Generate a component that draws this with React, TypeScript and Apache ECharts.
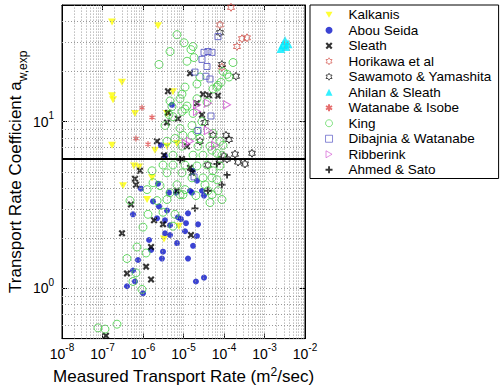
import React, { useEffect, useRef } from "react";
import * as echarts from "echarts";

const FONT = '"Liberation Sans", Arial, Helvetica, sans-serif';

// ---- data: [measured transport rate (m^2/s), transport rate coefficient] ----
const kalkanis = [
  [1.72e-7, 39.6], [2.35e-6, 37.5], [3.03e-7, 17.2], [1.72e-7, 14.3], [1.82e-7, 13.5],
  [6.34e-7, 11.2], [5.5e-6, 15.1], [3.91e-6, 11.2], [1.72e-7, 7.21], [5.99e-7, 5.42],
  [7.96e-7, 5.35], [1.67e-6, 4.6], [3.21e-7, 4.13], [1.26e-6, 3.41], [3.91e-6, 7.12],
  [6.9e-6, 7.4], [1.98e-6, 6.74], [7.73e-6, 2.36], [3.3e-6, 1.98],
];
const abouSeida = [
  [5.2e-6, 12.6], [2.78e-6, 7.21], [3.49e-6, 6.21], [8.91e-7, 3.96], [2.35e-6, 4.24],
  [4.38e-6, 3.75], [6.52e-6, 3.75], [1.45e-5, 3.85], [1.72e-5, 5.07], [2.15e-5, 4.42],
  [2.86e-5, 3.85], [3.21e-5, 3.6], [1.77e-6, 3.32], [5.66e-7, 2.78], [2.48e-6, 3.1],
  [3.91e-6, 2.93], [3.49e-6, 2.56], [2.22e-6, 2.63], [7.31e-6, 2.67], [8.66e-6, 2.6],
  [1.15e-5, 2.46], [2.28e-5, 2.42], [1.29e-5, 2.82], [4.64e-6, 2.39], [1.41e-6, 1.95],
  [1.58e-6, 1.7], [3.49e-6, 2.14], [4.64e-6, 2.09], [1.09e-5, 2.2], [6.9e-6, 1.87],
  [1.72e-5, 1.8], [2.15e-5, 2.06], [3.12e-6, 1.66], [2.94e-6, 1.51], [1.29e-5, 1.51],
  [7.52e-7, 1.48], [5.66e-7, 1.28], [6.34e-7, 1.1], [4.02e-7, 1.03], [1.0e-6, 0.934],
  [2.03e-5, 1.1], [3.21e-5, 1.16], [1.62e-5, 3.75],
];
const sleath = [
  [1.45e-5, 19.5], [4.14e-6, 15.2], [3.03e-5, 14.6], [4.26e-5, 14.4], [7.1e-5, 14.3],
  [2.15e-5, 12.9], [2.86e-5, 11.0], [4.14e-6, 11.3], [3.91e-6, 9.86], [7.31e-6, 10.4],
  [2.22e-6, 7.62], [3.3e-6, 6.29], [9.17e-6, 5.96], [8.42e-7, 5.07], [6.34e-7, 4.54],
  [6.71e-7, 4.18], [1.45e-5, 5.28], [1.62e-5, 4.93], [6.9e-6, 3.85], [5.05e-7, 3.18],
  [1.87e-6, 2.56], [3.12e-6, 2.42], [3.03e-7, 2.14], [1.58e-6, 1.77], [1.53e-5, 2.09],
  [1.19e-6, 1.35], [4.02e-7, 1.23], [1.58e-6, 1.13], [1.22e-7, 0.52], [1.22e-5, 7.12],
];
const horikawa = [
  [1.49e-4, 48.4], [7.96e-5, 38.0], [2.09e-4, 28.2], [2.78e-4, 31.4], [3.7e-4, 31.8], [8.91e-5, 21.2],
];
const sawamoto = [
  [7.96e-5, 34.1], [8.91e-5, 22.0], [1.98e-4, 18.7], [3.39e-5, 9.86], [5.35e-5, 8.27],
  [1.12e-4, 8.27], [1.33e-4, 7.82], [2.55e-5, 7.62], [1.87e-4, 6.38], [4.91e-4, 6.46],
  [1.0e-4, 6.21], [1.19e-4, 5.96], [2.22e-4, 5.72], [3.3e-4, 5.57], [4.02e-5, 5.49], [7.96e-5, 5.88],
];
const ahilan = [
  [3.21e-3, 30.6], [3.8e-3, 29.3], [2.86e-3, 28.9], [2.55e-3, 27.4], [3.39e-3, 28.2],
];
const watanabe = [
  [9.43e-7, 12.1], [1.67e-6, 10.6], [6.71e-7, 7.92], [1.33e-6, 7.31],
];
const king = [
  [6.9e-6, 33.2], [1.03e-5, 29.7], [4.64e-6, 26.3], [1.53e-5, 27.0], [1.82e-5, 24.2],
  [1.22e-5, 23.0], [2.48e-6, 22.0], [1.67e-4, 22.6], [9.43e-5, 20.0], [1.19e-4, 19.2],
  [1.33e-4, 18.5], [8.42e-5, 17.2], [6.71e-5, 16.1], [2.55e-5, 18.5], [1.72e-5, 28.2],
  [1.09e-5, 16.1], [9.17e-6, 14.6], [2.15e-5, 16.8], [5.35e-5, 15.7], [7.1e-5, 16.5],
  [8.19e-6, 13.7], [4.64e-6, 13.3], [2.15e-5, 13.7], [3.8e-5, 13.1], [5.2e-6, 12.3],
  [1.22e-5, 12.4], [1.09e-5, 11.9], [9.17e-6, 11.5], [1.72e-5, 11.2], [4.38e-6, 11.0],
  [5.5e-6, 10.7], [3.49e-6, 9.47], [8.19e-6, 9.09], [1.62e-5, 9.47], [2.86e-5, 10.0],
  [2.15e-5, 8.73], [9.7e-6, 8.27], [1.62e-5, 8.27], [2.55e-5, 7.92], [6.16e-6, 7.92],
  [3.91e-6, 7.62], [5.35e-5, 8.5], [9.17e-6, 7.12], [2.28e-5, 7.12], [4.51e-5, 7.12],
  [7.96e-5, 7.62], [9.43e-5, 7.21], [5.5e-6, 6.29], [1.72e-5, 6.29], [3.03e-5, 6.29],
  [6.71e-5, 6.46], [5.05e-5, 6.74], [8.91e-5, 6.29], [3.12e-6, 5.49], [5.5e-6, 5.49],
  [1.09e-5, 5.49], [2.15e-5, 5.42], [3.8e-5, 5.49], [7.96e-5, 5.42], [1.67e-6, 5.07],
  [3.91e-6, 4.93], [9.17e-6, 4.93], [5.35e-5, 5.07], [1.62e-5, 4.6], [3.03e-5, 4.6],
  [5.05e-5, 4.6], [6.71e-5, 4.48], [1.77e-6, 4.3], [2.63e-6, 4.13], [6.9e-6, 4.18],
  [3.39e-5, 4.18], [1.09e-5, 3.91], [1.26e-6, 3.91], [4.64e-6, 3.75], [8.19e-6, 3.65],
  [4.02e-5, 3.85], [7.1e-5, 3.85], [5.05e-5, 3.65], [2.22e-6, 3.36], [3.91e-6, 3.41],
  [9.7e-6, 3.65], [2.03e-5, 3.6], [4.77e-7, 3.36], [4.51e-5, 3.27], [8.91e-5, 3.41],
  [1.33e-6, 2.78], [3.12e-6, 2.86], [6.16e-6, 2.78], [1.0e-6, 2.33], [5.5e-6, 2.36],
  [7.1e-7, 1.77], [1.19e-6, 1.63], [4.02e-7, 1.51], [6.71e-7, 1.24], [5.66e-7, 1.1],
  [9.43e-7, 0.986], [2.28e-7, 0.61], [7.73e-8, 0.58], [1.15e-7, 0.57],
];
const dibajnia = [
  [7.1e-5, 32.3], [3.21e-5, 26.0], [4.02e-5, 26.3], [5.05e-5, 26.0], [2.86e-5, 23.6],
  [3.8e-5, 21.4], [1.92e-5, 19.8], [3.59e-5, 18.7], [4.51e-5, 18.0], [4.77e-5, 10.8],
  [2.28e-5, 8.85], [1.82e-5, 4.66],
];
const ribberink = [
  [1.19e-4, 12.6], [2.15e-5, 12.6], [4.02e-5, 12.9], [2.15e-5, 11.5], [4.02e-5, 8.85],
  [1.45e-5, 7.62], [1.15e-5, 7.4], [5.99e-5, 7.21],
];
const ahmedSato = [
  [8.19e-6, 5.88], [6.71e-5, 5.57], [1.19e-4, 4.79], [8.91e-5, 4.18], [4.02e-5, 3.85], [1.92e-5, 3.02],
];

const thresholdValue = 6;
const xRange = [1e-8, 1e-2];
const yRange = [0.5, 50];

// grid positions (1..9 x 10^k) inside the axis ranges
const xGridValues: number[] = [];
for (let e = -8; e < -2; e++) for (let m = 1; m <= 9; m++) if (!(e === -8 && m === 1)) xGridValues.push(m * Math.pow(10, e));
const yGridValues: number[] = [0.6, 0.7, 0.8, 0.9, 1, 2, 3, 4, 5, 6, 7, 8, 9, 10, 20, 30, 40];

const X_PATH = "path://M0,2.2 L2.2,0 L5,2.8 L7.8,0 L10,2.2 L7.2,5 L10,7.8 L7.8,10 L5,7.2 L2.2,10 L0,7.8 L2.8,5 Z";
const PLUS_PATH = "path://M3.7,0 L6.3,0 L6.3,3.7 L10,3.7 L10,6.3 L6.3,6.3 L6.3,10 L3.7,10 L3.7,6.3 L0,6.3 L0,3.7 L3.7,3.7 Z";
const HEX_PATH = "path://M5,0 L6.44,2.5 L9.33,2.5 L7.89,5 L9.33,7.5 L6.44,7.5 L5,10 L3.56,7.5 L0.67,7.5 L2.11,5 L0.67,2.5 L3.56,2.5 Z";
const AST_PATH = "path://M5,0 L5,10 M0.67,2.5 L9.33,7.5 M0.67,7.5 L9.33,2.5";
const DOWN_TRI = "path://M0,0 L10,0 L5,8.66 Z";
const RIGHT_TRI = "path://M0,0 L8.66,5 L0,10 Z";

const powLabel = (v: number) => {
  const l = Math.log10(v);
  const e = Math.round(l);
  if (Math.abs(l - e) > 1e-6) return "";
  return `{b|10}{s|${e}}`;
};
const tickRich = {
  b: { fontSize: 14, fontFamily: FONT, color: "#000", lineHeight: 22 },
  s: { fontSize: 10, fontFamily: FONT, color: "#000", lineHeight: 10, verticalAlign: "top" },
};

export default function App() {
  const ref = useRef<HTMLDivElement>(null);
  useEffect(() => {
    if (!ref.current) return;
    const chart = echarts.init(ref.current, null, { renderer: "svg" });
    const hollow = (c: string, w = 1) => ({ color: "transparent", borderColor: c, borderWidth: w });
    const series: any[] = [
      {
        name: "__grid", type: "scatter", data: [], silent: true, z: 1,
        markLine: {
          silent: true, symbol: ["none", "none"], label: { show: false }, animation: false,
          lineStyle: { type: [1, 2], color: "#9a9a9a", width: 1 },
          data: [
            ...xGridValues.map((v) => [{ coord: [v, yRange[0]] }, { coord: [v, yRange[1]] }]),
            ...yGridValues.map((v) => [{ coord: [xRange[0], v] }, { coord: [xRange[1], v] }]),
          ],
        },
      },
      { name: "Kalkanis", type: "scatter", data: kalkanis, symbol: DOWN_TRI, symbolSize: [8, 7], itemStyle: { color: "#ffff00" } },
      { name: "Abou Seida", type: "scatter", data: abouSeida, symbol: "circle", symbolSize: 6, itemStyle: { color: "#0a14c8" } },
      { name: "Sleath", type: "scatter", data: sleath, symbol: X_PATH, symbolSize: 7, symbolKeepAspect: true, itemStyle: { color: "#000" } },
      { name: "Horikawa et al", type: "scatter", data: horikawa, symbol: HEX_PATH, symbolSize: 8, symbolKeepAspect: true, itemStyle: hollow("#d24b43") },
      { name: "Sawamoto & Yamashita", type: "scatter", data: sawamoto, symbol: HEX_PATH, symbolSize: 8, symbolKeepAspect: true, itemStyle: hollow("#000") },
      { name: "Ahilan & Sleath", type: "scatter", data: ahilan, symbol: "triangle", symbolSize: 9, symbolKeepAspect: true, itemStyle: { color: "#00ecff" } },
      { name: "Watanabe & Isobe", type: "scatter", data: watanabe, symbol: AST_PATH, symbolSize: 6, symbolKeepAspect: true, itemStyle: hollow("#e04848", 1.3) },
      { name: "King", type: "scatter", data: king, symbol: "circle", symbolSize: 8, itemStyle: hollow("#3fd23f") },
      { name: "Dibajnia & Watanabe", type: "scatter", data: dibajnia, symbol: "rect", symbolSize: 6, symbolKeepAspect: true, itemStyle: hollow("#4848c0") },
      { name: "Ribberink", type: "scatter", data: ribberink, symbol: RIGHT_TRI, symbolSize: [7, 8], itemStyle: hollow("#d050d0") },
      {
        name: "Ahmed & Sato", type: "scatter", data: ahmedSato, symbol: PLUS_PATH, symbolSize: 7, symbolKeepAspect: true, itemStyle: { color: "#000" },
        markLine: {
          silent: true, symbol: ["none", "none"], label: { show: false }, animation: false,
          lineStyle: { type: "solid", color: "#000", width: 2 },
          data: [[{ coord: [xRange[0], thresholdValue] }, { coord: [xRange[1], thresholdValue] }]],
        },
      },
    ];
    const hollowNames = ["Horikawa et al", "Sawamoto & Yamashita", "King", "Dibajnia & Watanabe", "Ribberink"];
    const legendData = series
      .filter((s) => s.name !== "__grid")
      .map((s) => (hollowNames.includes(s.name)
        ? { name: s.name, itemStyle: { color: "transparent", borderColor: s.itemStyle.borderColor, borderWidth: 0.8 } }
        : { name: s.name }));
    chart.setOption({
      animation: false,
      backgroundColor: "#fff",
      textStyle: { fontFamily: FONT },
      grid: { left: 62, right: 195, top: 5, bottom: 47, show: true, borderColor: "#000", borderWidth: 1, backgroundColor: "transparent" },
      legend: {
        data: legendData, orient: "vertical", left: 310, top: 5,
        itemWidth: 7, itemHeight: 7, itemGap: 0, padding: [2, 7, 1, 15],
        symbolKeepAspect: true,
        borderColor: "#000", borderWidth: 1, backgroundColor: "#fff",
        textStyle: { fontSize: 13.5, fontFamily: FONT, color: "#000", lineHeight: 15.5, padding: [0, 0, 0, 11] },
        selectedMode: false,
      },
      xAxis: [
        {
          type: "log", logBase: 10, min: xRange[0], max: xRange[1], position: "bottom",
          axisLine: { show: true, onZero: false, lineStyle: { color: "#000" } },
          axisTick: { inside: true, length: 5, lineStyle: { color: "#000" } },
          axisLabel: { formatter: powLabel, margin: 4, rich: tickRich },
          splitLine: { show: false },
          name: "{a|Measured Transport Rate (m}{s|2}{a|/sec)}",
          nameLocation: "middle", nameGap: 26,
          nameTextStyle: {
            rich: {
              a: { fontSize: 17, fontFamily: FONT, color: "#000", lineHeight: 22 },
              s: { fontSize: 12, fontFamily: FONT, color: "#000", lineHeight: 12, verticalAlign: "top" },
            },
          },
        },
        {
          type: "log", logBase: 10, min: xRange[0], max: xRange[1], position: "top",
          axisLine: { show: true, onZero: false, lineStyle: { color: "#000" } },
          axisTick: { inside: true, length: 5, lineStyle: { color: "#000" } },
          axisLabel: { show: false }, splitLine: { show: false },
        },
      ],
      yAxis: [
        {
          type: "log", logBase: 10, min: yRange[0], max: yRange[1], position: "left",
          axisLine: { show: true, onZero: false, lineStyle: { color: "#000" } },
          axisTick: { inside: true, length: 5, lineStyle: { color: "#000" } },
          axisLabel: { formatter: powLabel, margin: 8, rich: tickRich },
          splitLine: { show: false },
          name: "{a|Transport Rate Coefficient a}{s|w,exp}",
          nameLocation: "middle", nameGap: 30, nameRotate: 90,
          nameTextStyle: {
            rich: {
              a: { fontSize: 17, fontFamily: FONT, color: "#000", lineHeight: 26 },
              s: { fontSize: 12, fontFamily: FONT, color: "#000", lineHeight: 12, verticalAlign: "bottom" },
            },
          },
        },
        {
          type: "log", logBase: 10, min: yRange[0], max: yRange[1], position: "right",
          axisLine: { show: true, onZero: false, lineStyle: { color: "#000" } },
          axisTick: { inside: true, length: 5, lineStyle: { color: "#000" } },
          axisLabel: { show: false }, splitLine: { show: false },
        },
      ],
      series,
    });
    return () => chart.dispose();
  }, []);
  return <div ref={ref} style={{ position: "fixed", left: 0, top: 0, width: 500, height: 390 }} />;
}
